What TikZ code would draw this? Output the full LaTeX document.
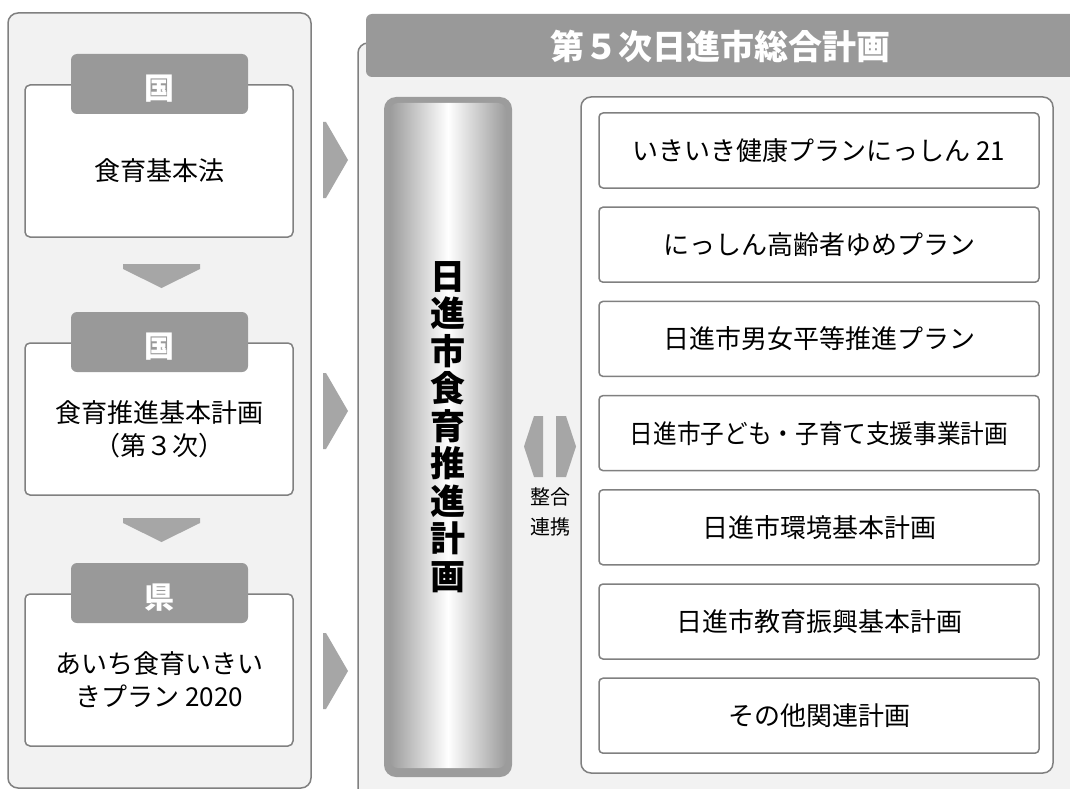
\documentclass[tikz,border=0pt]{standalone}
\usepackage{fontspec}
\setmainfont{Noto Sans CJK JP}
\definecolor{panelgray}{HTML}{F2F2F2}
\definecolor{linegray}{HTML}{808080}
\definecolor{taggray}{HTML}{999999}
\definecolor{arrowgray}{HTML}{A6A6A6}
\definecolor{barside}{HTML}{9C9C9C}
\begin{document}
\begin{tikzpicture}[x=1pt, y=-1pt,
    panel/.style={fill=panelgray, draw=linegray, line width=1.5pt, rounded corners=10pt},
    box/.style={fill=white, draw=linegray, line width=1.5pt, rounded corners=5pt},
    tag/.style={fill=taggray, rounded corners=6pt},
    tagtext/.style={text=white, font=\bfseries\fontsize{30}{32}\selectfont},
    boxtext/.style={align=center, font=\fontsize{26}{33}\selectfont},
    itemtext/.style={font=\fontsize{26}{30}\selectfont},
    titletext/.style={text=white, font=\bfseries\fontsize{34}{36}\selectfont},
    bartext/.style={align=center, font=\bfseries\fontsize{35}{37.5}\selectfont},
    smalltext/.style={align=center, font=\fontsize{20}{30}\selectfont}]
        \clip (0,0) rectangle (1070,789);
        \fill[white] (0,0) rectangle (1070,789);

        % Left column: laws and plans above
        \draw[panel] (8,13) rectangle (311,788);
        \foreach \top/\tagname/\txt [count=\i] in {85/国/食育基本法, 343/国/{食育推進基本計画\\（第３次）}, 594/県/{あいち食育いきい\\きプラン 2020}} {
            \draw[box] (25,\top) rectangle (293,\top+152);
            \fill[tag] (71,\top-31) rectangle (248,\top+29);
            \node[tagtext] (tag\i) at (159.5,\top+4) {\tagname};
            \node[boxtext] (law\i) at (159.5,\top+86) {\txt};
        }
        \foreach \y in {264,518}
            \fill[arrowgray] (123,\y) -- (200,\y) -- (200,\y+5) -- (161.5,\y+24) -- (123,\y+5) -- cycle;
        \foreach \y in {160,411,671}
            \fill[arrowgray] (323,\y-38) -- (326,\y-38) -- (348,\y) -- (326,\y+38) -- (323,\y+38) -- cycle;

        % City master plan
        \draw[panel] (358,43) rectangle (1100,820);
        \fill[tag] (366,14) rectangle (1100,77);
        \node[titletext] (sogo) at (720,46) {第５次日進市総合計画};

        % Food education plan bar
        \fill[barside, rounded corners=12pt] (384,97) rectangle (512,777);
        \shade[left color=barside, right color=barside, middle color=white, rounded corners=8pt] (390,103) rectangle (506,768);
        \node[bartext] (shokuiku) at (448,427) {日\\進\\市\\食\\育\\推\\進\\計\\画};

        % Coordination arrows
        \fill[arrowgray] (543,416) -- (543,477) -- (534,477) -- (524,446.5) -- (534,416) -- cycle;
        \fill[arrowgray] (556,416) -- (566,416) -- (576,446.5) -- (566,477) -- (556,477) -- cycle;
        \node[smalltext] (renkei) at (550,512) {整合\\連携};

        % Related plans
        \draw[box, rounded corners=10pt] (581,97) rectangle (1053,773);
        \foreach \txt [count=\i from 0] in {いきいき健康プランにっしん 21, にっしん高齢者ゆめプラン, 日進市男女平等推進プラン, \scalebox{0.91}[1]{日進市子ども・子育て支援事業計画}, 日進市環境基本計画, 日進市教育振興基本計画, その他関連計画} {
            \draw[box, rounded corners=4pt] (599,113+94.2*\i) rectangle (1039,188+94.2*\i);
            \node[itemtext] (rel\i) at (819,150.5+94.2*\i) {\txt};
        }
    \end{tikzpicture}
\end{document}
